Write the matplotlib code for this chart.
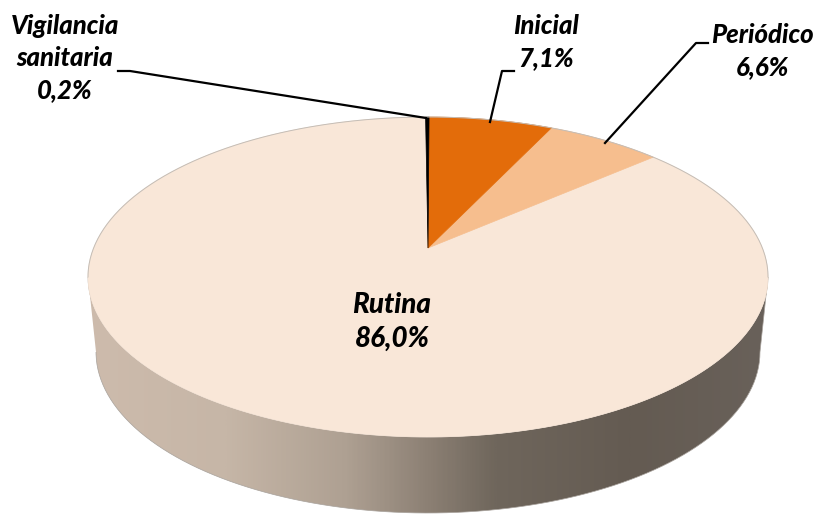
import numpy as np
import matplotlib.pyplot as plt
from matplotlib.colors import LinearSegmentedColormap
from matplotlib.patches import PathPatch
from matplotlib.path import Path

labels = ["Vigilancia\nsanitaria", "Inicial", "Periódico", "Rutina"]
values = [0.2, 7.1, 6.6, 86.0]

# layout and styling, in pixels of the 816x515 picture
colors = ["#000000", "#E36C0A", "#F6BE8E", "#F9E7D8"]
label_x = [65, 546, 762, 392]
label_y = [58, 42, 51, 322]
label_size = [18.5, 18.5, 18.5, 20]
leader_x = [[118, 130, 426], [490, 502, 514], [605, 696, 708]]
leader_y = [[71, 71, 118], [122, 71, 71], [143, 43, 43]]

# shading of the side wall, left to right
wall_stops = [0.0, 0.2, 0.38, 0.5, 0.6, 0.8, 1.0]
wall_cols = ["#CDBBAC", "#C6B6A7", "#AEA092", "#8C8074", "#6F665C", "#645B52", "#69615A"]

cx, cy, rx, ry = 428, 277, 340, 160
low_cy, low_rx, low_ry = 352, 332, 161
apex = (428, 248)
start = -0.5
persp = 0.82


def rim(theta):
    # pie angle (clockwise from top) to point on the tilted top ellipse
    t = np.radians(np.asarray(theta, dtype=float))
    phi = 2 * np.arctan(persp * np.tan(t / 2))
    return cx + rx * np.sin(phi), cy - ry * np.cos(phi)


plt.rcParams["font.family"] = ["Lato", "DejaVu Sans"]
fig = plt.figure(figsize=(8.16, 5.15), dpi=100)
ax = fig.add_axes([0, 0, 1, 1])
ax.set_xlim(0, 816)
ax.set_ylim(515, 0)
ax.axis("off")

# side wall
t = np.linspace(-np.pi / 2, np.pi / 2, 200)
top_x = cx + rx * np.sin(t)
top_y = cy + ry * np.cos(t)
low_x = cx + low_rx * np.sin(t)
low_y = low_cy + low_ry * np.cos(t)
wall_x = np.r_[top_x, low_x[::-1]]
wall_y = np.r_[top_y, low_y[::-1]]
wall = PathPatch(Path(np.c_[wall_x, wall_y]), fc="none", ec="#A8A29C", lw=0.5, zorder=2)
ax.add_patch(wall)
cmap = LinearSegmentedColormap.from_list("wall", list(zip(wall_stops, wall_cols)))
im = ax.imshow(np.linspace(0, 1, 400)[None, :], cmap=cmap, aspect="auto",
               extent=[cx - rx, cx + rx, 520, cy - 20], zorder=1)
im.set_clip_path(wall)
ax.set_xlim(0, 816)
ax.set_ylim(515, 0)

# top face
edges = start + 360 * np.cumsum([0] + values) / sum(values)
for i in range(len(values)):
    th = np.linspace(edges[i], edges[i + 1], 300)
    if i == 3:
        # long way round goes through the bottom, tan() blows up at 180 exactly
        th = th + 1e-4
    px, py = rim(th)
    ax.fill(np.r_[apex[0], px], np.r_[apex[1], py], color=colors[i], lw=0.5, zorder=3 + (3 - i))

th = np.linspace(np.pi, 2 * np.pi, 300)
ax.plot(cx + rx * np.cos(th), cy + ry * np.sin(th), color="#C4BDB6", lw=0.7, zorder=7)

for xs, ys in zip(leader_x, leader_y):
    ax.plot(xs, ys, color="black", lw=1.6, zorder=8, solid_joinstyle="round")

for i in range(len(values)):
    txt = labels[i] + "\n" + f"{values[i]:.1f}".replace(".", ",") + "%"
    ax.text(label_x[i], label_y[i], txt, ha="center", va="center", fontsize=label_size[i],
            fontweight=900, fontstyle="italic", linespacing=1.4, zorder=9)

fig.savefig("out.png", dpi=100)
